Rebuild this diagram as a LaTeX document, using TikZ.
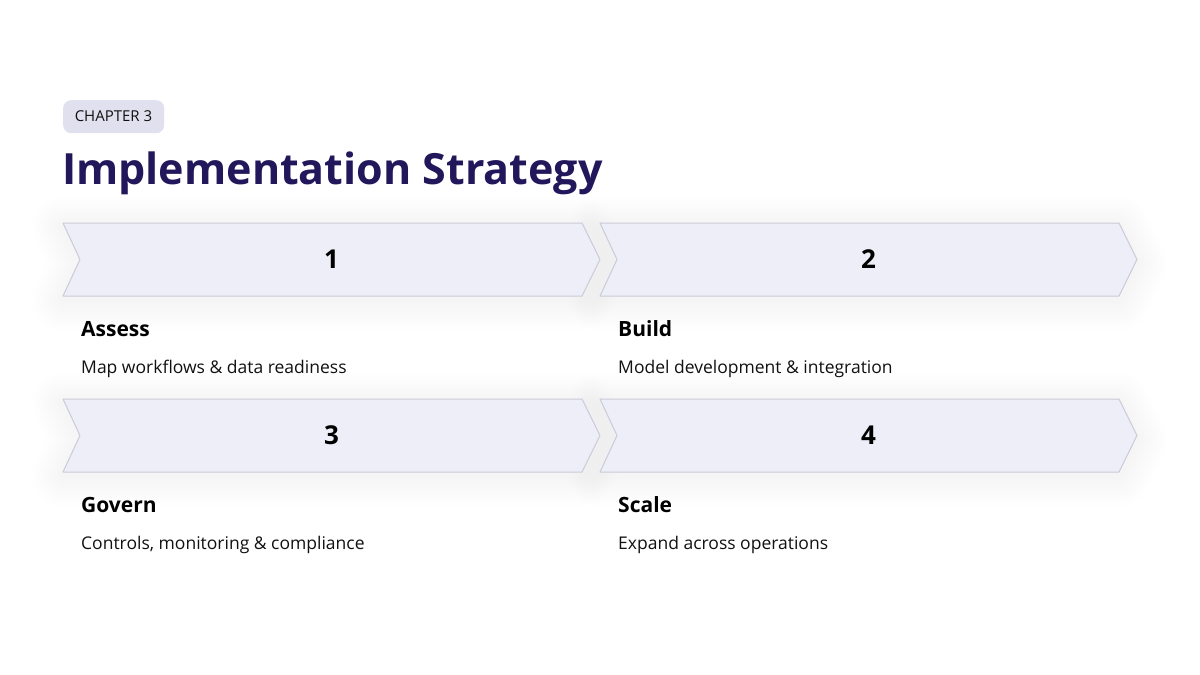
\documentclass[tikz,border=0pt]{standalone}
\usepackage{fontspec}
\setmainfont{Open Sans}
\definecolor{chevfill}{HTML}{EEEEF8}
\definecolor{chevline}{HTML}{CBCAD8}
\definecolor{titlecol}{HTML}{21175A}
\definecolor{pillfill}{HTML}{E1E0EF}
\definecolor{inkcol}{HTML}{111111}
\tikzset{
  chevron/.style={fill=chevfill, draw=chevline, line width=1pt, line join=round},
  glow/.style={draw=black, line join=round, draw opacity=0.0045, fill=none},
  numtext/.style={inner sep=0pt, anchor=base, font=\fontsize{26}{30}\selectfont\bfseries, text=black},
  headtext/.style={inner sep=0pt, anchor=base west, font=\fontsize{21}{25}\selectfont\bfseries, text=black},
  desctext/.style={inner sep=0pt, anchor=base west, font=\fontsize{17.5}{21}\selectfont, text=inkcol},
}
\begin{document}
\begin{tikzpicture}[x=1pt,y=-1pt]
\useasboundingbox[fill=white] (0,0) rectangle (1200,675);
% pill
\node[fill=pillfill, rounded corners=8pt, minimum width=101pt, minimum height=33pt, inner sep=0pt, anchor=north west] (pill) at (63,100) {};
\node[inner sep=0pt, anchor=base, font=\fontsize{15}{18}\selectfont, text=inkcol] (chap) at (113.5,121.5) {CHAPTER 3};
% title
\node[inner sep=0pt, anchor=base west, font=\fontsize{43}{50}\selectfont\bfseries, text=titlecol] (title) at (62,184) {Implementation Strategy};
% soft shadows
\foreach \x/\y in {63/223, 600/223, 63/399, 600/399}{
  \foreach \w in {6,12,...,60}{
    \draw[glow, line width=\w pt] (\x,\y+4) -- ++(519,0) -- ++(18,36.5) -- ++(-18,36.5) -- ++(-519,0) -- ++(17,-36.5) -- cycle;
  }
}
% chevrons
\foreach \x/\y/\n in {63/223/c1, 600/223/c2, 63/399/c3, 600/399/c4}{
  \draw[chevron] (\x,\y) -- ++(519,0) -- ++(18,36.5) -- ++(-18,36.5) -- ++(-519,0) -- ++(17,-36.5) -- cycle;
}
\node[numtext] (n1) at (331.5,268) {1};
\node[numtext] (n2) at (868.5,268) {2};
\node[numtext] (n3) at (331.5,444) {3};
\node[numtext] (n4) at (868.5,444) {4};
% headings
\node[headtext] (h1) at (81,336) {Assess};
\node[desctext] (d1) at (81,373) {Map workflows \& data readiness};
\node[headtext] (h2) at (618,336) {Build};
\node[desctext] (d2) at (618,373) {Model development \& integration};
\node[headtext] (h3) at (81,512) {Govern};
\node[desctext] (d3) at (81,549) {Controls, monitoring \& compliance};
\node[headtext] (h4) at (618,512) {Scale};
\node[desctext] (d4) at (618,549) {Expand across operations};
\end{tikzpicture}
\end{document}
